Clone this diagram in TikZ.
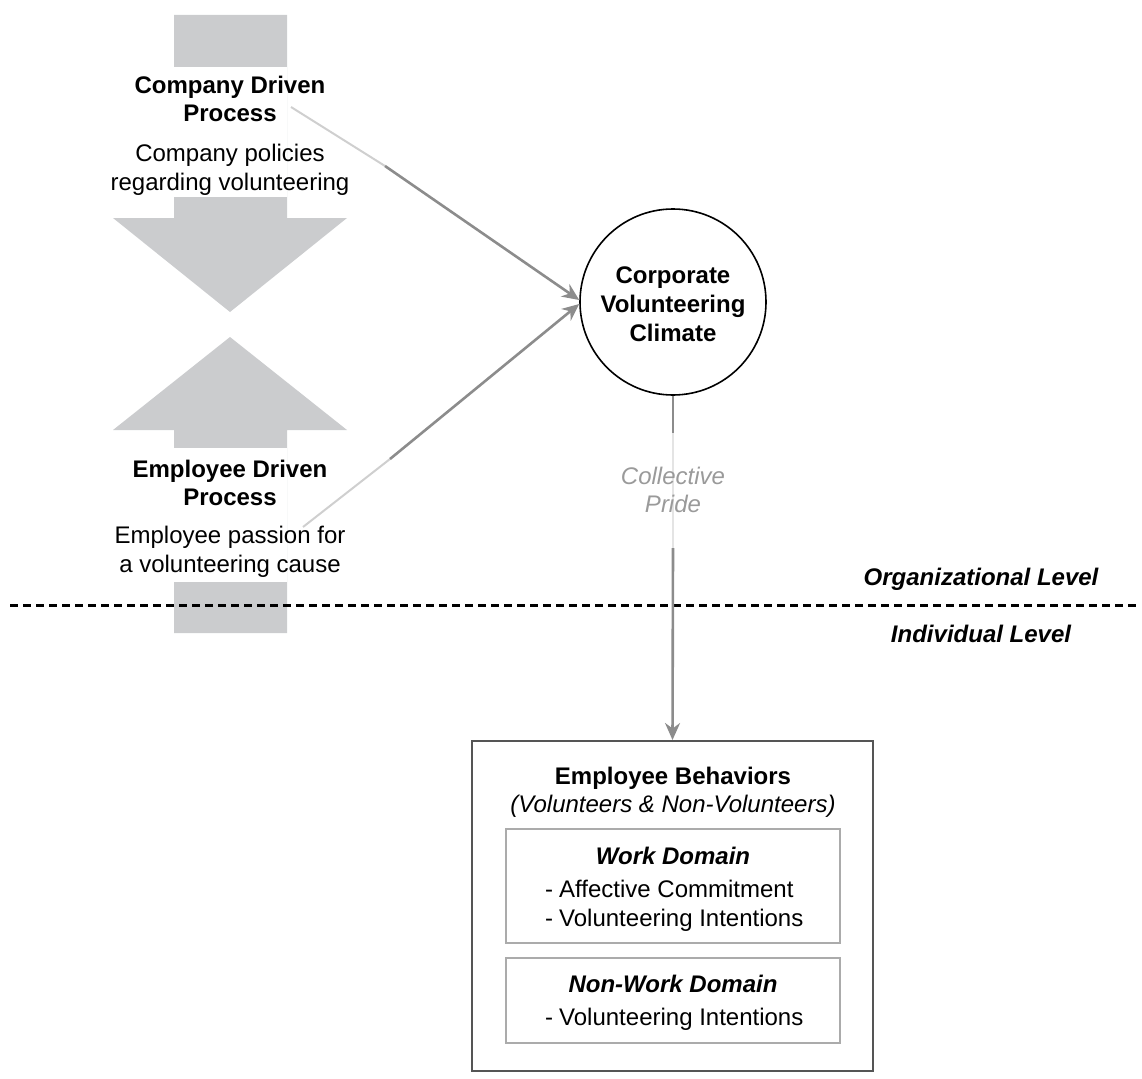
\documentclass[tikz,border=0pt]{standalone}
\usepackage{fontspec}
\setmainfont{Liberation Sans}
\usetikzlibrary{arrows.meta}
\definecolor{blockgray}{HTML}{CBCCCE}
\definecolor{linegray}{HTML}{8C8C8C}
\definecolor{fadegray}{HTML}{CFCFCF}
\definecolor{lightline}{HTML}{E4E4E4}
\definecolor{labelgray}{HTML}{9A9A9A}
\definecolor{boxgray}{HTML}{555555}
\definecolor{innergray}{HTML}{ABABAB}
\tikzset{
  txt/.style={inner sep=0pt, align=center, font=\fontsize{24}{28.5}\selectfont},
  btxt/.style={txt, font=\fontsize{24}{28.5}\selectfont\bfseries},
  bitxt/.style={txt, font=\fontsize{24}{28.5}\selectfont\bfseries\itshape},
  itxt/.style={txt, font=\fontsize{24}{28.5}\selectfont\itshape},
  listtxt/.style={txt, align=left, anchor=west},
  conn/.style={draw=linegray, line width=2.6pt},
  fadeconn/.style={draw=fadegray, line width=2pt},
  tip/.style={-{Stealth[length=17pt,width=15pt]}},
  blockarrow/.style={fill=blockgray, draw=none},
}
\begin{document}
\begin{tikzpicture}[x=1pt,y=-1pt]
\useasboundingbox (0,0) rectangle (1142,1078);
% block arrows
\path[blockarrow] (174,15) -- (287,15) -- (287,218) -- (347,218) -- (230,312) -- (113,218) -- (174,218) -- cycle;
\fill[white] (174,67) rectangle (287,197);
\path[blockarrow] (230,337) -- (347,430) -- (287,430) -- (287,633) -- (174,633) -- (174,430) -- (113,430) -- cycle;
\fill[white] (174,448) rectangle (287,582);
% dashed level line
\coordinate (dl) at (10,605);
\coordinate (dr) at (1136,605);
\draw[line width=3pt, dash pattern=on 8pt off 5pt] (dl) -- (dr);
% left texts
\node[btxt] (ctitle) at (230,99) {Company Driven\\Process};
\node[txt] (cdesc) at (230,170) {Company policies\\regarding volunteering};
\node[btxt] (etitle) at (230,483) {Employee Driven\\Process};
\node[txt] (edesc) at (230,552) {Employee passion for\\a volunteering cause};
% climate circle
\node[circle, draw=black, line width=1.6pt, minimum size=186pt, inner sep=0pt, fill=white] (cvc) at (673,302) {};
\node[btxt, font=\fontsize{24}{29}\selectfont\bfseries] (cvctext) at (673,304) {Corporate\\Volunteering\\Climate};
% connectors into circle
\coordinate (c1) at (291,107);
\coordinate (m1) at (385,166);
\coordinate (c2) at (303,527);
\coordinate (m2) at (390,459);
\draw[fadeconn] (c1) -- (m1);
\draw[conn, tip] (m1) -- ([yshift=2pt]cvc.west);
\draw[fadeconn] (c2) -- (m2);
\draw[conn, tip] (m2) -- ([yshift=-2pt]cvc.west);
% level labels
\node[bitxt] (org) at (981,579) {Organizational Level};
\node[bitxt] (ind) at (981,634) {Individual Level};
% behaviors box
\node[draw=boxgray, line width=2pt, minimum width=401pt, minimum height=330pt, inner sep=0pt] (box) at (672.5,906) {};
\node[draw=innergray, line width=2pt, minimum width=334pt, minimum height=114pt, inner sep=0pt] (work) at (673,886) {};
\node[draw=innergray, line width=2pt, minimum width=334pt, minimum height=85pt, inner sep=0pt] (nonwork) at (673,1000.5) {};
\node[btxt] (ebtitle) at (673,778) {Employee Behaviors};
\node[itxt] (ebsub) at (673,806) {(Volunteers \& Non-Volunteers)};
\node[bitxt] (wtitle) at (673,856) {Work Domain};
\node[listtxt] (wlist) at (545,906) {-\hspace{6pt}Affective Commitment\\-\hspace{6pt}Volunteering Intentions};
\node[bitxt] (nwtitle) at (673,984) {Non-Work Domain};
\node[listtxt] (nwlist) at (545,1019) {-\hspace{6pt}Volunteering Intentions};
% collective pride connector
\coordinate (g1) at (673,433);
\coordinate (g2) at (673,548);
\draw[conn] (cvc.south) -- (g1);
\draw[draw=lightline, line width=1.5pt] (g1) -- (g2);
\node[itxt, text=labelgray] (pride) at (673,490) {Collective\\Pride};
\draw[conn, tip] (g2) -- (box.north);
\end{tikzpicture}
\end{document}
